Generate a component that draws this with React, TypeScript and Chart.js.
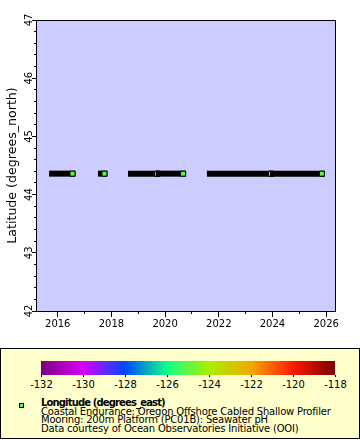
import React, { useEffect, useRef } from 'react';
import { Chart, registerables } from 'chart.js';

Chart.register(...registerables);

// ---- data ----
const stationLatitude = 44.36;
const stationLongitude = -124.95;
// continuous data segments (decimal years)
const segmentStart = [2015.79, 2017.61, 2018.73, 2019.77, 2021.67, 2024.02];
const segmentEnd = [2016.55, 2017.74, 2019.7, 2020.67, 2023.94, 2025.84];

const xMin = 2015.19;
const xMax = 2026.33;
const yMin = 42;
const yMax = 47;

const colorbarTicks = [-132, -130, -128, -126, -124, -122, -120, -118];
const paletteColors = ['#7c0082', '#d800f8', '#0048ff', '#10ff8a', '#a8f000', '#f4a800', '#ff1800', '#7a0000'];

const yTitle = 'Latitude (degrees_north)';
const legendTitle = 'Longitude (degrees_east)';
const legendLines = [
  'Coastal Endurance: Oregon Offshore Cabled Shallow Profiler',
  'Mooring: 200m Platform (PC01B): Seawater pH',
  'Data courtesy of Ocean Observatories Initiative (OOI)',
];

const FONT = '"DejaVu Sans", sans-serif';

function hexToRgb(h: string) {
  const n = parseInt(h.slice(1), 16);
  return [(n >> 16) & 255, (n >> 8) & 255, n & 255];
}

function paletteColor(v: number) {
  const lo = colorbarTicks[0];
  const hi = colorbarTicks[colorbarTicks.length - 1];
  const t = Math.min(1, Math.max(0, (v - lo) / (hi - lo))) * (paletteColors.length - 1);
  const i = Math.min(paletteColors.length - 2, Math.floor(t));
  const f = t - i;
  const a = hexToRgb(paletteColors[i]);
  const b = hexToRgb(paletteColors[i + 1]);
  const c = a.map((x, k) => Math.round(x + (b[k] - x) * f));
  return `rgb(${c[0]},${c[1]},${c[2]})`;
}

const framePlugin = {
  id: 'frame',
  beforeDraw(chart: any) {
    const { ctx, chartArea: a } = chart;
    ctx.save();
    ctx.fillStyle = '#ccccff';
    ctx.fillRect(a.left, a.top, a.right - a.left, a.bottom - a.top);
    ctx.restore();
  },
  afterDraw(chart: any) {
    const { ctx, chartArea: a } = chart;
    ctx.save();
    ctx.strokeStyle = '#000';
    ctx.lineWidth = 1;
    ctx.strokeRect(Math.round(a.left) + 0.5, Math.round(a.top) + 0.5, Math.round(a.right) - Math.round(a.left), Math.round(a.bottom) - Math.round(a.top));
    ctx.restore();
  },
};

export default function App() {
  const ref = useRef<HTMLCanvasElement | null>(null);

  useEffect(() => {
    if (!ref.current) return;
    const pointColor = paletteColor(stationLongitude);
    const datasets = segmentStart.map((s, i) => ({
      type: 'line' as const,
      data: [
        { x: s, y: stationLatitude },
        { x: segmentEnd[i], y: stationLatitude },
      ],
      borderColor: '#000',
      borderWidth: 6,
      borderCapStyle: 'square' as const,
      tension: 0,
      pointStyle: 'rect' as const,
      pointRadius: [0, 3.536],
      pointBackgroundColor: pointColor,
      pointBorderColor: '#000',
      pointBorderWidth: 1,
      order: -i,
    }));

    const chart = new Chart(ref.current, {
      type: 'line',
      data: { datasets },
      plugins: [framePlugin],
      options: {
        responsive: false,
        animation: false,
        devicePixelRatio: 1,
        events: [],
        layout: { padding: { top: 20, right: 25, left: 0, bottom: 0 } },
        plugins: { legend: { display: false }, tooltip: { enabled: false } },
        scales: {
          x: {
            type: 'linear',
            position: 'bottom',
            min: xMin,
            max: xMax,
            afterFit: (s: any) => {
              s.height = 34;
            },
            border: { display: true, color: '#000', width: 1 },
            grid: {
              drawOnChartArea: false,
              tickLength: 6,
              tickColor: '#000',
              tickBorderDash: (c: any) => (c.tick && c.tick.value % 2 === 0 ? [] : [2, 100]),
            },
            ticks: {
              stepSize: 1,
              includeBounds: false,
              autoSkip: false,
              maxRotation: 0,
              minRotation: 0,
              padding: 1,
              color: '#000',
              font: { family: FONT, size: 10 },
              callback: (v: any) => (Number(v) % 2 === 0 ? String(v) : ''),
            },
          },
          y: {
            type: 'linear',
            min: yMin,
            max: yMax,
            afterFit: (s: any) => {
              s.width = 36;
            },
            border: { display: true, color: '#000', width: 1 },
            grid: {
              drawOnChartArea: false,
              tickLength: 4,
              tickColor: '#000',
              tickBorderDash: (c: any) => (c.tick && Number.isInteger(c.tick.value) ? [] : [0, 2, 2, 100]),
            },
            title: {
              display: true,
              text: yTitle,
              color: '#000',
              font: { family: FONT, size: 12.6 },
              padding: { top: 5, bottom: 0 },
            },
            ticks: {
              stepSize: 0.2,
              autoSkip: false,
              minRotation: 90,
              maxRotation: 90,
              crossAlign: 'center',
              padding: -3.5,
              color: '#000',
              font: { family: FONT, size: 10 },
              callback: (v: any) => (Number.isInteger(Number(v)) ? String(v) : ''),
            },
          },
        },
      } as any,
    });
    return () => chart.destroy();
  }, []);

  const gradient = `linear-gradient(to right, ${paletteColors
    .map((c, i) => `${c} ${((i / (paletteColors.length - 1)) * 100).toFixed(2)}%`)
    .join(', ')})`;
  const pointColor = paletteColor(stationLongitude);

  return (
    <div style={{ position: 'absolute', left: 0, top: 0, width: 360, height: 440, background: '#fff' }}>
      <canvas ref={ref} width={360} height={345} style={{ position: 'absolute', left: 0, top: 0, width: 360, height: 345 }} />
      <div
        style={{
          position: 'absolute',
          left: 0,
          top: 348,
          width: 360,
          height: 91,
          boxSizing: 'border-box',
          border: '1px solid #000',
          background: '#ffffcc',
          fontFamily: FONT,
          color: '#000',
        }}
      >
        <div style={{ position: 'absolute', left: 40, top: 12, width: 294, height: 14, background: gradient }} />
        {colorbarTicks.map((t, i) => (
          <React.Fragment key={t}>
            <div style={{ position: 'absolute', left: 40 + i * 42, top: 26, width: 1, height: 2, background: '#000' }} />
            <div
              style={{
                position: 'absolute',
                left: 40.5 + i * 42,
                top: 31,
                transform: 'translateX(-50%)',
                fontSize: 10,
                lineHeight: '10px',
                whiteSpace: 'nowrap',
              }}
            >
              {String(t)}
            </div>
          </React.Fragment>
        ))}
        <div
          style={{
            position: 'absolute',
            left: 18,
            top: 54,
            width: 5,
            height: 5,
            boxSizing: 'border-box',
            border: '1px solid #000',
            background: pointColor,
          }}
        />
        <div
          style={{
            position: 'absolute',
            left: 40,
            top: 49,
            fontSize: 10,
            lineHeight: '10px',
            fontWeight: 'bold',
            letterSpacing: '-0.85px',
            whiteSpace: 'nowrap',
          }}
        >
          {legendTitle}
        </div>
        {legendLines.map((l, i) => (
          <div
            key={i}
            style={{
              position: 'absolute',
              left: 40,
              top: 57.5 + i * 8.6,
              fontSize: 10,
              lineHeight: '10px',
              letterSpacing: '-0.2px',
              whiteSpace: 'nowrap',
            }}
          >
            {l}
          </div>
        ))}
      </div>
    </div>
  );
}
